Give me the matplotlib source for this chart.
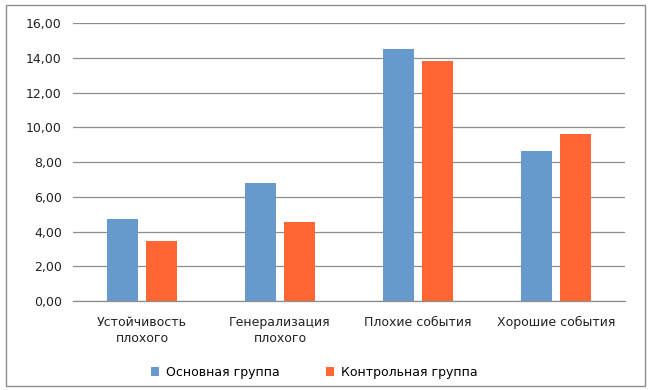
import numpy as np
import matplotlib.pyplot as plt
from matplotlib.patches import Rectangle

categories = ['Устойчивость\nплохого', 'Генерализация\nплохого',
              'Плохие события', 'Хорошие события']
main_group = [4.72, 6.79, 14.5, 8.63]
control_group = [3.45, 4.55, 13.8, 9.6]
series_names = ['Основная группа', 'Контрольная группа']
y_ticks = [0, 2, 4, 6, 8, 10, 12, 14, 16]

plt.rcParams['font.family'] = ['DejaVu Sans']
fs = 9

fig = plt.figure(figsize=(6.5, 3.9), dpi=100)
ax = fig.add_axes([0.1123, 0.2282, 0.8492, 0.7128])

x = np.arange(len(categories))
width = 0.225
ax.bar(x - 0.141, main_group, width, color='#6699cc', label=series_names[0])
ax.bar(x + 0.141, control_group, width, color='#ff6633', label=series_names[1])

ax.set_xlim(-0.5, len(categories) - 0.5)
ax.set_ylim(0, 16)
ax.set_yticks(y_ticks)
ax.yaxis.set_major_formatter(plt.FuncFormatter(lambda v, _: ('%.2f' % v).replace('.', ',')))
ax.grid(axis='y', color='#8c8c8c', linewidth=0.9)
ax.set_axisbelow(True)

ax.set_xticks(x)
ax.set_xticklabels(categories, fontsize=fs, color='#222222', linespacing=1.3)
ax.tick_params(axis='y', length=0, labelsize=fs, labelcolor='#222222', pad=8)
ax.tick_params(axis='x', length=0, pad=11)

for side in ['left', 'right', 'top']:
    ax.spines[side].set_visible(False)
ax.spines['bottom'].set_color('#8c8c8c')
ax.spines['bottom'].set_linewidth(0.9)

fig.legend(loc='center', bbox_to_anchor=(0.483, 0.046), ncol=2, frameon=False,
           fontsize=fs, handlelength=0.7, handleheight=0.7,
           handletextpad=0.5, columnspacing=3.7)

fig.patches.append(Rectangle((0.009, 0.01), 0.983, 0.978, transform=fig.transFigure,
                             fill=False, edgecolor='#8c8c8c', linewidth=1.0))

fig.savefig('out.png', dpi=100)
